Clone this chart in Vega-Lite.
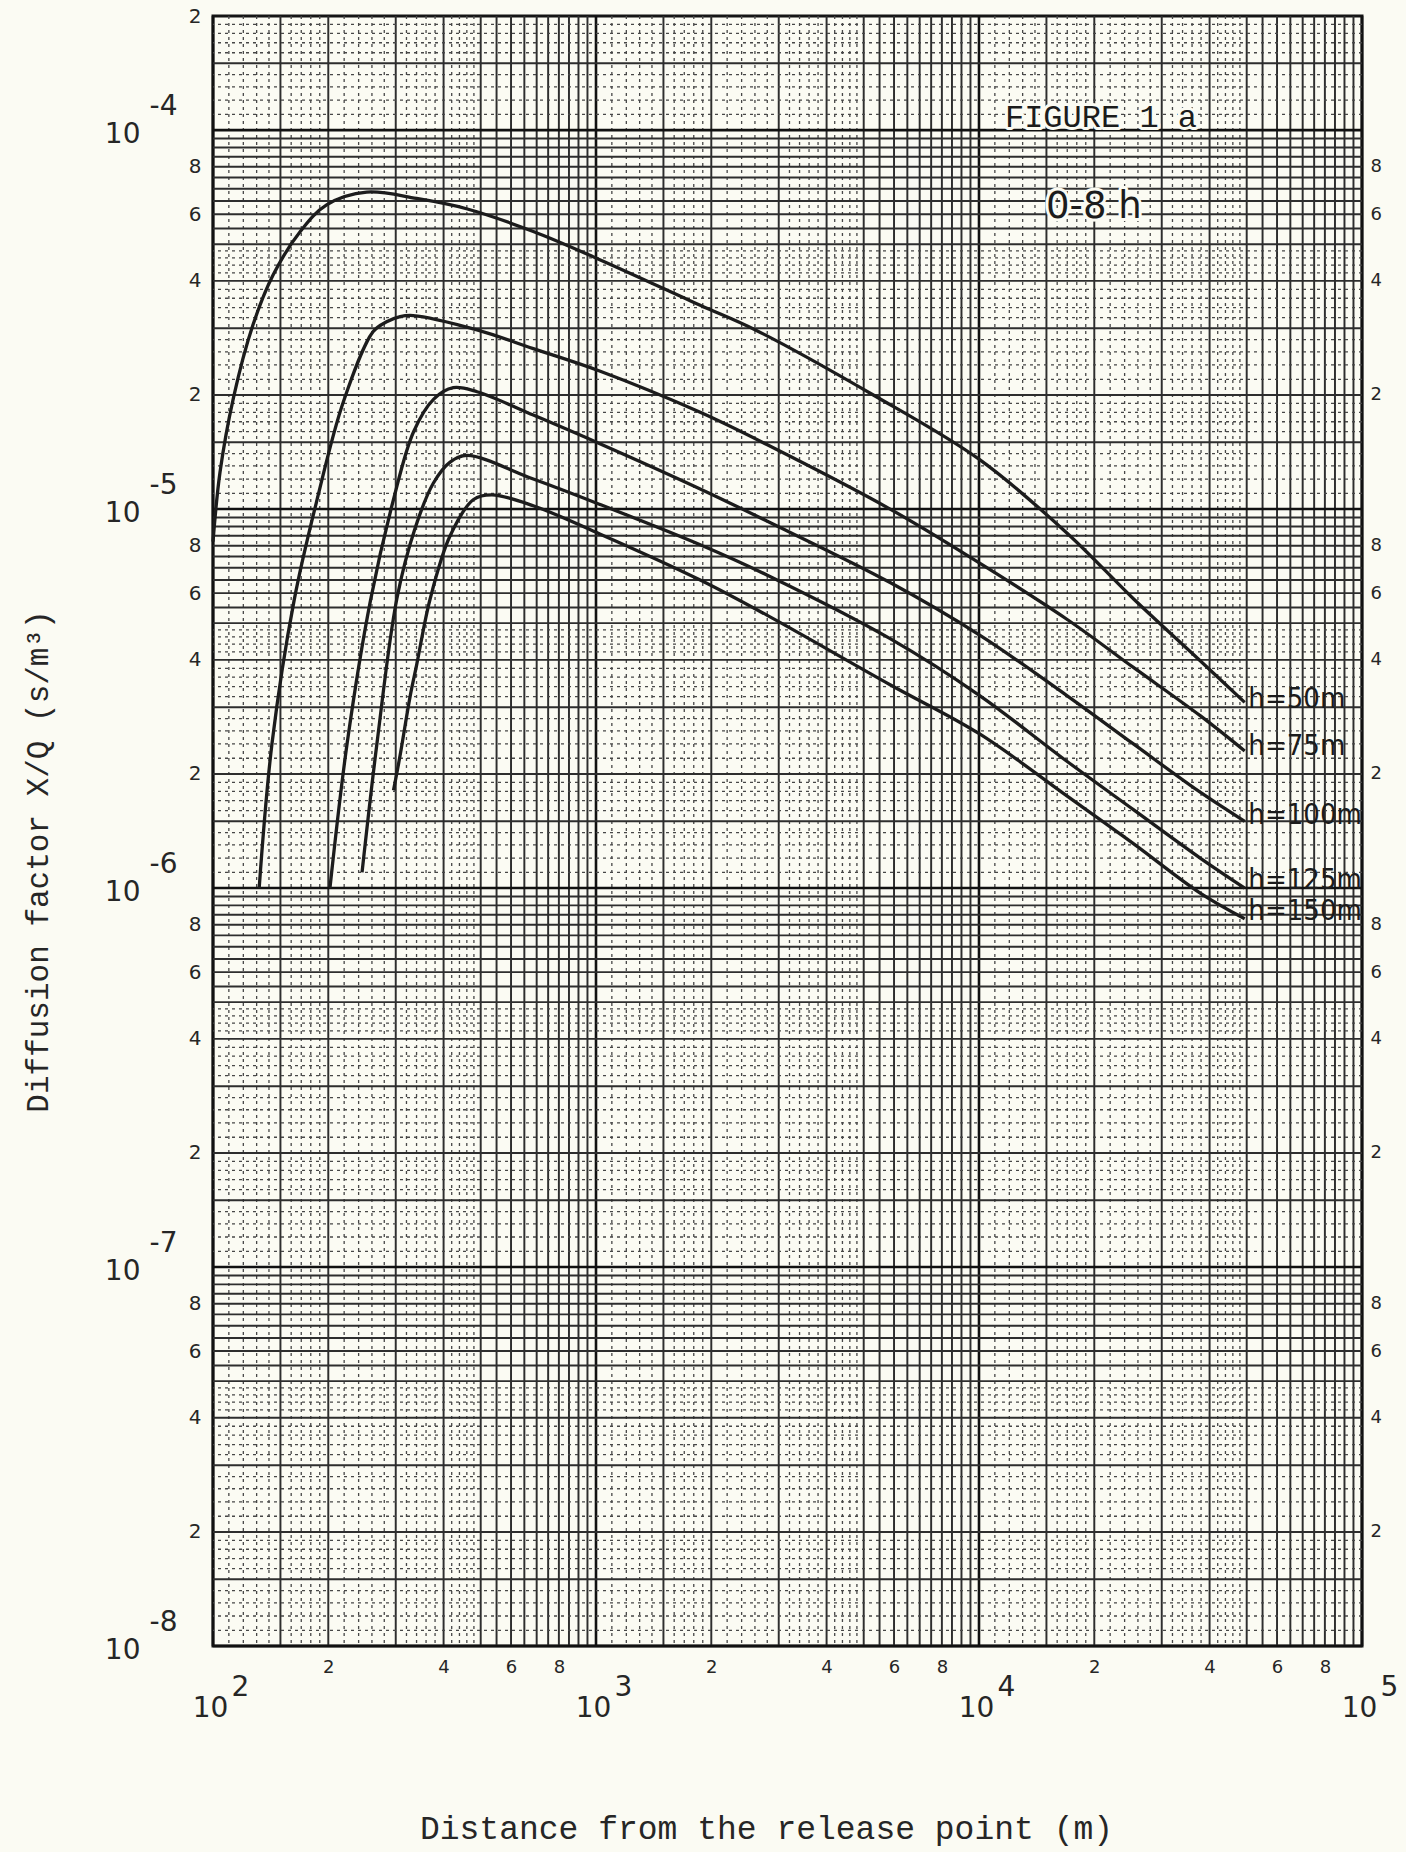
{
  "$schema": "https://vega.github.io/schema/vega-lite/v6.json",
  "width": 1149,
  "height": 1630,
  "autosize": {"type": "none"},
  "padding": {"left": 213, "top": 16, "right": 44, "bottom": 206},
  "background": "#fbfbf3",
  "config": {
    "view": {"stroke": "#151515", "strokeWidth": 3},
    "axis": {"grid": false, "ticks": false, "domain": false, "labelColor": "#262626", "labelFont": "DejaVu Sans", "labelFlush": false, "labelOverlap": false, "labelBound": false, "titleColor": "#262626"}
  },
  "datasets": {
    "gx": [
      {"v": 100, "k": "M"}, {"v": 1000, "k": "M"}, {"v": 10000, "k": "M"}, {"v": 100000, "k": "M"},
      {"v": 150, "k": "S"}, {"v": 200, "k": "S"}, {"v": 300, "k": "S"}, {"v": 400, "k": "S"}, {"v": 500, "k": "S"}, {"v": 550, "k": "S"}, {"v": 600, "k": "S"}, {"v": 650, "k": "S"}, {"v": 700, "k": "S"}, {"v": 750, "k": "S"}, {"v": 800, "k": "S"}, {"v": 850, "k": "S"}, {"v": 900, "k": "S"}, {"v": 950, "k": "S"},
      {"v": 110, "k": "D"}, {"v": 120, "k": "D"}, {"v": 130, "k": "D"}, {"v": 140, "k": "D"}, {"v": 160, "k": "D"}, {"v": 170, "k": "D"}, {"v": 180, "k": "D"}, {"v": 190, "k": "D"}, {"v": 220, "k": "D"}, {"v": 240, "k": "D"}, {"v": 260, "k": "D"}, {"v": 280, "k": "D"}, {"v": 320, "k": "D"}, {"v": 340, "k": "D"}, {"v": 360, "k": "D"}, {"v": 380, "k": "D"}, {"v": 420, "k": "D"}, {"v": 440, "k": "D"}, {"v": 460, "k": "D"}, {"v": 480, "k": "D"},
      {"v": 1500, "k": "S"}, {"v": 2000, "k": "S"}, {"v": 3000, "k": "S"}, {"v": 4000, "k": "S"}, {"v": 5000, "k": "S"}, {"v": 5500, "k": "S"}, {"v": 6000, "k": "S"}, {"v": 6500, "k": "S"}, {"v": 7000, "k": "S"}, {"v": 7500, "k": "S"}, {"v": 8000, "k": "S"}, {"v": 8500, "k": "S"}, {"v": 9000, "k": "S"}, {"v": 9500, "k": "S"},
      {"v": 1100, "k": "D"}, {"v": 1200, "k": "D"}, {"v": 1300, "k": "D"}, {"v": 1400, "k": "D"}, {"v": 1600, "k": "D"}, {"v": 1700, "k": "D"}, {"v": 1800, "k": "D"}, {"v": 1900, "k": "D"}, {"v": 2200, "k": "D"}, {"v": 2400, "k": "D"}, {"v": 2600, "k": "D"}, {"v": 2800, "k": "D"}, {"v": 3200, "k": "D"}, {"v": 3400, "k": "D"}, {"v": 3600, "k": "D"}, {"v": 3800, "k": "D"}, {"v": 4200, "k": "D"}, {"v": 4400, "k": "D"}, {"v": 4600, "k": "D"}, {"v": 4800, "k": "D"},
      {"v": 15000, "k": "S"}, {"v": 20000, "k": "S"}, {"v": 30000, "k": "S"}, {"v": 40000, "k": "S"}, {"v": 50000, "k": "S"}, {"v": 55000, "k": "S"}, {"v": 60000, "k": "S"}, {"v": 65000, "k": "S"}, {"v": 70000, "k": "S"}, {"v": 75000, "k": "S"}, {"v": 80000, "k": "S"}, {"v": 85000, "k": "S"}, {"v": 90000, "k": "S"}, {"v": 95000, "k": "S"},
      {"v": 11000, "k": "D"}, {"v": 12000, "k": "D"}, {"v": 13000, "k": "D"}, {"v": 14000, "k": "D"}, {"v": 16000, "k": "D"}, {"v": 17000, "k": "D"}, {"v": 18000, "k": "D"}, {"v": 19000, "k": "D"}, {"v": 22000, "k": "D"}, {"v": 24000, "k": "D"}, {"v": 26000, "k": "D"}, {"v": 28000, "k": "D"}, {"v": 32000, "k": "D"}, {"v": 34000, "k": "D"}, {"v": 36000, "k": "D"}, {"v": 38000, "k": "D"}, {"v": 42000, "k": "D"}, {"v": 44000, "k": "D"}, {"v": 46000, "k": "D"}, {"v": 48000, "k": "D"}
    ],
    "gy": [
      {"v": 1e-8, "k": "M"}, {"v": 1e-7, "k": "M"}, {"v": 1e-6, "k": "M"}, {"v": 1e-5, "k": "M"}, {"v": 1e-4, "k": "M"},
      {"v": 1.5e-8, "k": "S"}, {"v": 2e-8, "k": "S"}, {"v": 3e-8, "k": "S"}, {"v": 4e-8, "k": "S"}, {"v": 5e-8, "k": "S"}, {"v": 5.5e-8, "k": "S"}, {"v": 6e-8, "k": "S"}, {"v": 6.5e-8, "k": "S"}, {"v": 7e-8, "k": "S"}, {"v": 7.5e-8, "k": "S"}, {"v": 8e-8, "k": "S"}, {"v": 8.5e-8, "k": "S"}, {"v": 9e-8, "k": "S"}, {"v": 9.5e-8, "k": "S"},
      {"v": 1.1e-8, "k": "D"}, {"v": 1.2e-8, "k": "D"}, {"v": 1.3e-8, "k": "D"}, {"v": 1.4e-8, "k": "D"}, {"v": 1.6e-8, "k": "D"}, {"v": 1.7e-8, "k": "D"}, {"v": 1.8e-8, "k": "D"}, {"v": 1.9e-8, "k": "D"}, {"v": 2.2e-8, "k": "D"}, {"v": 2.4e-8, "k": "D"}, {"v": 2.6e-8, "k": "D"}, {"v": 2.8e-8, "k": "D"}, {"v": 3.2e-8, "k": "D"}, {"v": 3.4e-8, "k": "D"}, {"v": 3.6e-8, "k": "D"}, {"v": 3.8e-8, "k": "D"}, {"v": 4.2e-8, "k": "D"}, {"v": 4.4e-8, "k": "D"}, {"v": 4.6e-8, "k": "D"}, {"v": 4.8e-8, "k": "D"},
      {"v": 1.5e-7, "k": "S"}, {"v": 2e-7, "k": "S"}, {"v": 3e-7, "k": "S"}, {"v": 4e-7, "k": "S"}, {"v": 5e-7, "k": "S"}, {"v": 5.5e-7, "k": "S"}, {"v": 6e-7, "k": "S"}, {"v": 6.5e-7, "k": "S"}, {"v": 7e-7, "k": "S"}, {"v": 7.5e-7, "k": "S"}, {"v": 8e-7, "k": "S"}, {"v": 8.5e-7, "k": "S"}, {"v": 9e-7, "k": "S"}, {"v": 9.5e-7, "k": "S"},
      {"v": 1.1e-7, "k": "D"}, {"v": 1.2e-7, "k": "D"}, {"v": 1.3e-7, "k": "D"}, {"v": 1.4e-7, "k": "D"}, {"v": 1.6e-7, "k": "D"}, {"v": 1.7e-7, "k": "D"}, {"v": 1.8e-7, "k": "D"}, {"v": 1.9e-7, "k": "D"}, {"v": 2.2e-7, "k": "D"}, {"v": 2.4e-7, "k": "D"}, {"v": 2.6e-7, "k": "D"}, {"v": 2.8e-7, "k": "D"}, {"v": 3.2e-7, "k": "D"}, {"v": 3.4e-7, "k": "D"}, {"v": 3.6e-7, "k": "D"}, {"v": 3.8e-7, "k": "D"}, {"v": 4.2e-7, "k": "D"}, {"v": 4.4e-7, "k": "D"}, {"v": 4.6e-7, "k": "D"}, {"v": 4.8e-7, "k": "D"},
      {"v": 1.5e-6, "k": "S"}, {"v": 2e-6, "k": "S"}, {"v": 3e-6, "k": "S"}, {"v": 4e-6, "k": "S"}, {"v": 5e-6, "k": "S"}, {"v": 5.5e-6, "k": "S"}, {"v": 6e-6, "k": "S"}, {"v": 6.5e-6, "k": "S"}, {"v": 7e-6, "k": "S"}, {"v": 7.5e-6, "k": "S"}, {"v": 8e-6, "k": "S"}, {"v": 8.5e-6, "k": "S"}, {"v": 9e-6, "k": "S"}, {"v": 9.5e-6, "k": "S"},
      {"v": 1.1e-6, "k": "D"}, {"v": 1.2e-6, "k": "D"}, {"v": 1.3e-6, "k": "D"}, {"v": 1.4e-6, "k": "D"}, {"v": 1.6e-6, "k": "D"}, {"v": 1.7e-6, "k": "D"}, {"v": 1.8e-6, "k": "D"}, {"v": 1.9e-6, "k": "D"}, {"v": 2.2e-6, "k": "D"}, {"v": 2.4e-6, "k": "D"}, {"v": 2.6e-6, "k": "D"}, {"v": 2.8e-6, "k": "D"}, {"v": 3.2e-6, "k": "D"}, {"v": 3.4e-6, "k": "D"}, {"v": 3.6e-6, "k": "D"}, {"v": 3.8e-6, "k": "D"}, {"v": 4.2e-6, "k": "D"}, {"v": 4.4e-6, "k": "D"}, {"v": 4.6e-6, "k": "D"}, {"v": 4.8e-6, "k": "D"},
      {"v": 1.5e-5, "k": "S"}, {"v": 2e-5, "k": "S"}, {"v": 3e-5, "k": "S"}, {"v": 4e-5, "k": "S"}, {"v": 5e-5, "k": "S"}, {"v": 5.5e-5, "k": "S"}, {"v": 6e-5, "k": "S"}, {"v": 6.5e-5, "k": "S"}, {"v": 7e-5, "k": "S"}, {"v": 7.5e-5, "k": "S"}, {"v": 8e-5, "k": "S"}, {"v": 8.5e-5, "k": "S"}, {"v": 9e-5, "k": "S"}, {"v": 9.5e-5, "k": "S"},
      {"v": 1.1e-5, "k": "D"}, {"v": 1.2e-5, "k": "D"}, {"v": 1.3e-5, "k": "D"}, {"v": 1.4e-5, "k": "D"}, {"v": 1.6e-5, "k": "D"}, {"v": 1.7e-5, "k": "D"}, {"v": 1.8e-5, "k": "D"}, {"v": 1.9e-5, "k": "D"}, {"v": 2.2e-5, "k": "D"}, {"v": 2.4e-5, "k": "D"}, {"v": 2.6e-5, "k": "D"}, {"v": 2.8e-5, "k": "D"}, {"v": 3.2e-5, "k": "D"}, {"v": 3.4e-5, "k": "D"}, {"v": 3.6e-5, "k": "D"}, {"v": 3.8e-5, "k": "D"}, {"v": 4.2e-5, "k": "D"}, {"v": 4.4e-5, "k": "D"}, {"v": 4.6e-5, "k": "D"}, {"v": 4.8e-5, "k": "D"},
      {"v": 1.5e-4, "k": "S"},
      {"v": 1.1e-4, "k": "D"}, {"v": 1.2e-4, "k": "D"}, {"v": 1.3e-4, "k": "D"}, {"v": 1.4e-4, "k": "D"}, {"v": 1.6e-4, "k": "D"}, {"v": 1.7e-4, "k": "D"}, {"v": 1.8e-4, "k": "D"}, {"v": 1.9e-4, "k": "D"}
    ],
    "curves": [
      {"h": "h=50m", "x": 100, "y": 8.2e-6}, {"h": "h=50m", "x": 104.3, "y": 1.25e-5}, {"h": "h=50m", "x": 113, "y": 1.96e-5}, {"h": "h=50m", "x": 127, "y": 3.05e-5}, {"h": "h=50m", "x": 143.6, "y": 4.15e-5}, {"h": "h=50m", "x": 169, "y": 5.4e-5}, {"h": "h=50m", "x": 198, "y": 6.35e-5}, {"h": "h=50m", "x": 252, "y": 6.86e-5}, {"h": "h=50m", "x": 340, "y": 6.6e-5}, {"h": "h=50m", "x": 459, "y": 6.2e-5}, {"h": "h=50m", "x": 686, "y": 5.4e-5}, {"h": "h=50m", "x": 1023, "y": 4.55e-5}, {"h": "h=50m", "x": 1871, "y": 3.45e-5}, {"h": "h=50m", "x": 2624, "y": 2.96e-5}, {"h": "h=50m", "x": 5297, "y": 2.0e-5}, {"h": "h=50m", "x": 10040, "y": 1.35e-5}, {"h": "h=50m", "x": 16960, "y": 8.65e-6}, {"h": "h=50m", "x": 25300, "y": 5.8e-6}, {"h": "h=50m", "x": 37800, "y": 3.98e-6}, {"h": "h=50m", "x": 49400, "y": 3.09e-6},
      {"h": "h=75m", "x": 132, "y": 1.0e-6}, {"h": "h=75m", "x": 142.6, "y": 2.41e-6}, {"h": "h=75m", "x": 163, "y": 5.77e-6}, {"h": "h=75m", "x": 187, "y": 1.06e-5}, {"h": "h=75m", "x": 219, "y": 1.92e-5}, {"h": "h=75m", "x": 262, "y": 2.94e-5}, {"h": "h=75m", "x": 284, "y": 3.12e-5}, {"h": "h=75m", "x": 308, "y": 3.22e-5}, {"h": "h=75m", "x": 333, "y": 3.24e-5}, {"h": "h=75m", "x": 489, "y": 2.97e-5}, {"h": "h=75m", "x": 686, "y": 2.65e-5}, {"h": "h=75m", "x": 1026, "y": 2.31e-5}, {"h": "h=75m", "x": 1871, "y": 1.8e-5}, {"h": "h=75m", "x": 2793, "y": 1.48e-5}, {"h": "h=75m", "x": 5860, "y": 1.0e-5}, {"h": "h=75m", "x": 10040, "y": 7.2e-6}, {"h": "h=75m", "x": 16960, "y": 5.12e-6}, {"h": "h=75m", "x": 25300, "y": 3.82e-6}, {"h": "h=75m", "x": 37800, "y": 2.85e-6}, {"h": "h=75m", "x": 49400, "y": 2.3e-6},
      {"h": "h=100m", "x": 202, "y": 1.0e-6}, {"h": "h=100m", "x": 224, "y": 2.41e-6}, {"h": "h=100m", "x": 258, "y": 5.77e-6}, {"h": "h=100m", "x": 296, "y": 1.06e-5}, {"h": "h=100m", "x": 334, "y": 1.6e-5}, {"h": "h=100m", "x": 377, "y": 1.95e-5}, {"h": "h=100m", "x": 424, "y": 2.09e-5}, {"h": "h=100m", "x": 489, "y": 2.04e-5}, {"h": "h=100m", "x": 686, "y": 1.77e-5}, {"h": "h=100m", "x": 1020, "y": 1.49e-5}, {"h": "h=100m", "x": 1871, "y": 1.13e-5}, {"h": "h=100m", "x": 2793, "y": 9.3e-6}, {"h": "h=100m", "x": 5860, "y": 6.4e-6}, {"h": "h=100m", "x": 10040, "y": 4.65e-6}, {"h": "h=100m", "x": 16960, "y": 3.22e-6}, {"h": "h=100m", "x": 25300, "y": 2.4e-6}, {"h": "h=100m", "x": 37800, "y": 1.79e-6}, {"h": "h=100m", "x": 49400, "y": 1.5e-6},
      {"h": "h=125m", "x": 245, "y": 1.1e-6}, {"h": "h=125m", "x": 268, "y": 2.41e-6}, {"h": "h=125m", "x": 302, "y": 5.8e-6}, {"h": "h=125m", "x": 337, "y": 8.9e-6}, {"h": "h=125m", "x": 376, "y": 1.17e-5}, {"h": "h=125m", "x": 416, "y": 1.33e-5}, {"h": "h=125m", "x": 460, "y": 1.385e-5}, {"h": "h=125m", "x": 686, "y": 1.2e-5}, {"h": "h=125m", "x": 1020, "y": 1.03e-5}, {"h": "h=125m", "x": 1871, "y": 8.05e-6}, {"h": "h=125m", "x": 2793, "y": 6.7e-6}, {"h": "h=125m", "x": 5860, "y": 4.55e-6}, {"h": "h=125m", "x": 10040, "y": 3.22e-6}, {"h": "h=125m", "x": 16960, "y": 2.16e-6}, {"h": "h=125m", "x": 25300, "y": 1.61e-6}, {"h": "h=125m", "x": 37800, "y": 1.2e-6}, {"h": "h=125m", "x": 49400, "y": 1.0e-6},
      {"h": "h=150m", "x": 296, "y": 1.81e-6}, {"h": "h=150m", "x": 308, "y": 2.24e-6}, {"h": "h=150m", "x": 327, "y": 3.2e-6}, {"h": "h=150m", "x": 340, "y": 3.87e-6}, {"h": "h=150m", "x": 369, "y": 5.8e-6}, {"h": "h=150m", "x": 416, "y": 8.5e-6}, {"h": "h=150m", "x": 479, "y": 1.06e-5}, {"h": "h=150m", "x": 535, "y": 1.09e-5}, {"h": "h=150m", "x": 686, "y": 1.02e-5}, {"h": "h=150m", "x": 1023, "y": 8.6e-6}, {"h": "h=150m", "x": 1871, "y": 6.5e-6}, {"h": "h=150m", "x": 2793, "y": 5.25e-6}, {"h": "h=150m", "x": 5860, "y": 3.44e-6}, {"h": "h=150m", "x": 10040, "y": 2.55e-6}, {"h": "h=150m", "x": 16960, "y": 1.75e-6}, {"h": "h=150m", "x": 25300, "y": 1.31e-6}, {"h": "h=150m", "x": 37800, "y": 9.7e-7}, {"h": "h=150m", "x": 49400, "y": 8.3e-7}
    ],
    "labels": [
      {"t": "h=50m", "x": 50500, "y": 3.16e-6},
      {"t": "h=75m", "x": 50500, "y": 2.37e-6},
      {"t": "h=100m", "x": 50500, "y": 1.563e-6},
      {"t": "h=125m", "x": 50500, "y": 1.05e-6},
      {"t": "h=150m", "x": 50500, "y": 8.72e-7}
    ],
    "notes": [
      {"t": "FIGURE 1 a", "x": 20820, "y": 1.08e-4},
      {"t": "0-8 h", "x": 19950, "y": 6.25e-5}
    ]
  },
  "resolve": {"axis": {"x": "independent", "y": "independent"}},
  "layer": [
    {
      "data": {"name": "gx"},
      "mark": {"type": "rule"},
      "encoding": {
        "x": {"field": "v", "type": "quantitative", "scale": {"type": "log", "domain": [100, 100000], "nice": false},
          "axis": {"orient": "bottom", "values": [200, 400, 600, 800, 2000, 4000, 6000, 8000, 20000, 40000, 60000, 80000], "labelExpr": "toString(round(datum.value/pow(10,floor(log(datum.value)/LN10))))", "labelFontSize": 18, "labelPadding": 12, "title": null}},
        "color": {"field": "k", "type": "nominal", "scale": {"domain": ["M", "S", "D"], "range": ["#111111", "#2e2e2e", "#474747"]}, "legend": null},
        "strokeWidth": {"field": "k", "type": "ordinal", "scale": {"domain": ["M", "S", "D"], "range": [2.6, 1.3, 1.4]}, "legend": null},
        "strokeDash": {"field": "k", "type": "nominal", "scale": {"domain": ["M", "S", "D"], "range": [[1, 0], [1, 0], [3, 4]]}, "legend": null}
      }
    },
    {
      "data": {"name": "gy"},
      "mark": {"type": "rule"},
      "encoding": {
        "y": {"field": "v", "type": "quantitative", "scale": {"type": "log", "domain": [1e-8, 2e-4], "nice": false},
          "axis": {"orient": "right", "values": [8e-5, 6e-5, 4e-5, 2e-5, 8e-6, 6e-6, 4e-6, 2e-6, 8e-7, 6e-7, 4e-7, 2e-7, 8e-8, 6e-8, 4e-8, 2e-8], "labelExpr": "toString(round(datum.value/pow(10,floor(log(datum.value)/LN10))))", "labelFontSize": 18, "labelPadding": 8, "title": null}},
        "color": {"field": "k", "type": "nominal", "scale": {"domain": ["M", "S", "D"], "range": ["#111111", "#2e2e2e", "#474747"]}, "legend": null},
        "strokeWidth": {"field": "k", "type": "ordinal", "scale": {"domain": ["M", "S", "D"], "range": [2.6, 1.3, 1.4]}, "legend": null},
        "strokeDash": {"field": "k", "type": "nominal", "scale": {"domain": ["M", "S", "D"], "range": [[1, 0], [1, 0], [3, 4]]}, "legend": null}
      }
    },
    {
      "data": {"name": "curves"},
      "mark": {"type": "line", "interpolate": "catmull-rom", "strokeWidth": 3.3, "color": "#1c1c1c"},
      "encoding": {
        "x": {"field": "x", "type": "quantitative", "scale": {"type": "log", "domain": [100, 100000], "nice": false},
          "axis": {"orient": "bottom", "values": [100, 1000, 10000, 100000], "labelExpr": "'10'", "labelFontSize": 28, "labelPadding": 48, "labelOffset": -3, "title": "Distance from the release point (m)", "titleFont": "Liberation Mono", "titleFontSize": 33, "titleFontWeight": "normal", "titleX": 553, "titleY": 182, "titleBaseline": "middle"}},
        "y": {"field": "y", "type": "quantitative", "scale": {"type": "log", "domain": [1e-8, 2e-4], "nice": false},
          "axis": {"orient": "left", "values": [2e-4, 8e-5, 6e-5, 4e-5, 2e-5, 8e-6, 6e-6, 4e-6, 2e-6, 8e-7, 6e-7, 4e-7, 2e-7, 8e-8, 6e-8, 4e-8, 2e-8], "labelExpr": "toString(round(datum.value/pow(10,floor(log(datum.value)/LN10))))", "labelFontSize": 20, "labelPadding": 12, "title": null}},
        "detail": {"field": "h", "type": "nominal"}
      }
    },
    {
      "data": {"name": "labels"},
      "mark": {"type": "text", "align": "left", "baseline": "middle", "font": "DejaVu Sans Condensed, Liberation Sans Narrow, DejaVu Sans", "fontSize": 29, "color": "#1c1c1c"},
      "encoding": {
        "x": {"field": "x", "type": "quantitative", "scale": {"type": "log", "domain": [100, 100000], "nice": false},
          "axis": {"orient": "bottom", "values": [100, 1000, 10000, 100000], "labelExpr": "toString(round(log(datum.value)/LN10))", "labelFontSize": 28, "labelPadding": 27, "labelOffset": 27, "title": null}},
        "y": {"field": "y", "type": "quantitative", "scale": {"type": "log", "domain": [1e-8, 2e-4], "nice": false},
          "axis": {"orient": "left", "values": [1e-4, 1e-5, 1e-6, 1e-7, 1e-8], "labelExpr": "'10'", "labelFontSize": 28, "labelPadding": 73, "labelOffset": 4, "title": "Diffusion factor X/Q (s/m³)", "titleFont": "Liberation Mono", "titleFontSize": 31, "titleFontWeight": "normal", "titleX": -175, "titleY": 845, "titleBaseline": "middle"}},
        "text": {"field": "t", "type": "nominal"}
      }
    },
    {
      "data": {"name": "notes"},
      "transform": [{"filter": "datum.t == 'FIGURE 1 a'"}],
      "mark": {"type": "text", "align": "center", "baseline": "middle", "font": "Liberation Mono", "fontSize": 32, "color": "#fbfbf3", "stroke": "#fbfbf3", "strokeWidth": 6, "strokeJoin": "round"},
      "encoding": {
        "x": {"field": "x", "type": "quantitative", "scale": {"type": "log", "domain": [100, 100000], "nice": false}, "axis": null},
        "y": {"field": "y", "type": "quantitative", "scale": {"type": "log", "domain": [1e-8, 2e-4], "nice": false},
          "axis": {"orient": "left", "values": [1e-4, 1e-5, 1e-6, 1e-7, 1e-8], "labelExpr": "'-' + toString(-round(log(datum.value)/LN10))", "labelFontSize": 28, "labelPadding": 36, "labelOffset": -24, "title": null}},
        "text": {"field": "t", "type": "nominal"}
      }
    },
    {
      "data": {"name": "notes"},
      "transform": [{"filter": "datum.t == 'FIGURE 1 a'"}],
      "mark": {"type": "text", "align": "center", "baseline": "middle", "font": "Liberation Mono", "fontSize": 32, "color": "#1c1c1c"},
      "encoding": {
        "x": {"field": "x", "type": "quantitative", "scale": {"type": "log", "domain": [100, 100000], "nice": false}, "axis": null},
        "y": {"field": "y", "type": "quantitative", "scale": {"type": "log", "domain": [1e-8, 2e-4], "nice": false}, "axis": null},
        "text": {"field": "t", "type": "nominal"}
      }
    },
    {
      "data": {"name": "notes"},
      "transform": [{"filter": "datum.t == '0-8 h'"}],
      "mark": {"type": "text", "align": "center", "baseline": "middle", "font": "DejaVu Sans", "fontSize": 37, "color": "#fbfbf3", "stroke": "#fbfbf3", "strokeWidth": 6, "strokeJoin": "round"},
      "encoding": {
        "x": {"field": "x", "type": "quantitative", "scale": {"type": "log", "domain": [100, 100000], "nice": false}, "axis": null},
        "y": {"field": "y", "type": "quantitative", "scale": {"type": "log", "domain": [1e-8, 2e-4], "nice": false}, "axis": null},
        "text": {"field": "t", "type": "nominal"}
      }
    },
    {
      "data": {"name": "notes"},
      "transform": [{"filter": "datum.t == '0-8 h'"}],
      "mark": {"type": "text", "align": "center", "baseline": "middle", "font": "DejaVu Sans", "fontSize": 37, "color": "#1c1c1c"},
      "encoding": {
        "x": {"field": "x", "type": "quantitative", "scale": {"type": "log", "domain": [100, 100000], "nice": false}, "axis": null},
        "y": {"field": "y", "type": "quantitative", "scale": {"type": "log", "domain": [1e-8, 2e-4], "nice": false}, "axis": null},
        "text": {"field": "t", "type": "nominal"}
      }
    }
  ]
}
